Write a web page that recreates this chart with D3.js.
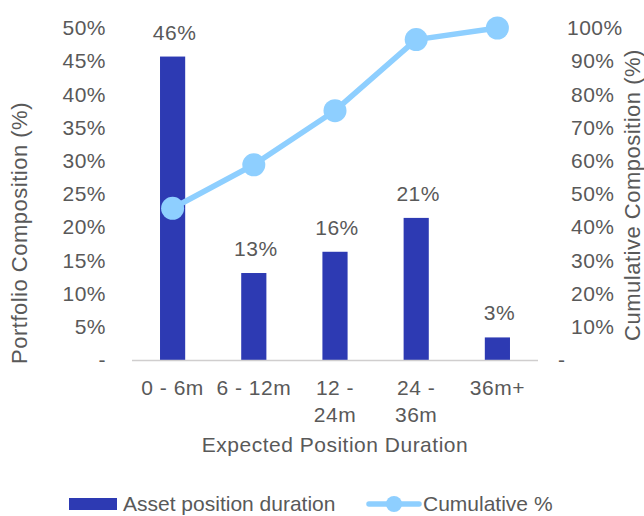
<!doctype html>
<html>
<head>
<meta charset="utf-8">
<script src="https://cdn.jsdelivr.net/npm/d3@7"></script>
<style>
  body { margin: 0; background: #fff; }
  svg text { font-family: "Liberation Sans", Arial, sans-serif; fill: #595959; letter-spacing: 0.5px; }
  svg .legend text { letter-spacing: 0; }
</style>
</head>
<body>
<svg id="chart" width="644" height="516"></svg>
<script>
const categories = ["0 - 6m", "6 - 12m", "12 - 24m", "24 - 36m", "36m+"];
const categoryLines = [["0 - 6m"], ["6 - 12m"], ["12 -", "24m"], ["24 -", "36m"], ["36m+"]];
const assetDuration = [45.7, 13.1, 16.3, 21.4, 3.4];
const cumulative = [45.7, 58.8, 75.1, 96.5, 100];
const leftTicks = [0, 5, 10, 15, 20, 25, 30, 35, 40, 45, 50];
const rightTicks = [0, 10, 20, 30, 40, 50, 60, 70, 80, 90, 100];

const barColor = "#2d3ab3";
const lineColor = "#8ecfff";

const svg = d3.select("#chart");
const x0 = 132, x1 = 538, yBase = 360, yTop = 28;

const x = d3.scaleBand().domain(categories).range([x0, x1]).paddingInner(0.69).paddingOuter(0.345);
const yL = d3.scaleLinear().domain([0, 50]).range([yBase, yTop]);
const yR = d3.scaleLinear().domain([0, 100]).range([yBase, yTop]);

const fmt = (v) => v === 0 ? "-" : v + "%";

// left axis
const gl = svg.append("g").attr("transform", `translate(${x0},0)`)
    .call(d3.axisLeft(yL).tickValues(leftTicks).tickFormat(fmt).tickSize(0).tickPadding(26));
gl.select(".domain").remove();
gl.selectAll("text").style("font-size", "21px").attr("fill", "#595959");

// right axis
const gr = svg.append("g").attr("transform", `translate(${x1},0)`)
    .call(d3.axisRight(yR).tickValues(rightTicks).tickFormat(fmt).tickSize(0).tickPadding(33));
gr.select(".domain").remove();
gr.selectAll("text").style("font-size", "21px").attr("fill", "#595959")
    .attr("x", (d) => d === 0 ? 20 : d === 100 ? 29 : 33);

// bars
svg.append("g").selectAll("rect").data(assetDuration).join("rect")
    .attr("x", (d, i) => x(categories[i]))
    .attr("width", x.bandwidth())
    .attr("y", (d) => yL(d))
    .attr("height", (d) => yBase - yL(d))
    .attr("fill", barColor);

// baseline
svg.append("line").attr("x1", x0).attr("x2", x1).attr("y1", yBase + 0.5).attr("y2", yBase + 0.5)
    .attr("stroke", "#d0cece").attr("stroke-width", 1.5);

// bar labels
svg.append("g").selectAll("text").data(assetDuration).join("text")
    .attr("x", (d, i) => x(categories[i]) + x.bandwidth() / 2 + 2)
    .attr("y", (d) => yL(d) - 17)
    .attr("text-anchor", "middle")
    .style("font-size", "21px")
    .text((d) => Math.round(d) + "%");

// cumulative line
const cx = (i) => x(categories[i]) + x.bandwidth() / 2;
svg.append("path")
    .datum(cumulative)
    .attr("fill", "none")
    .attr("stroke", lineColor)
    .attr("stroke-width", 5.5)
    .attr("stroke-linejoin", "round")
    .attr("d", d3.line().x((d, i) => cx(i)).y((d) => yR(d)));
svg.append("g").selectAll("circle").data(cumulative).join("circle")
    .attr("cx", (d, i) => cx(i))
    .attr("cy", (d) => yR(d))
    .attr("r", 11.5)
    .attr("fill", lineColor);

// x tick labels
const xl = svg.append("g").selectAll("text").data(categoryLines).join("text")
    .attr("text-anchor", "middle")
    .style("font-size", "21px");
xl.each(function (lines, i) {
  d3.select(this).selectAll("tspan").data(lines).join("tspan")
      .attr("x", cx(i))
      .attr("y", (d, j) => 395 + j * 27)
      .text((d) => d);
});

// axis titles
svg.append("text").attr("x", 335).attr("y", 452).attr("text-anchor", "middle")
    .style("font-size", "21px").text("Expected Position Duration");
svg.append("text").attr("transform", "translate(27,233) rotate(-90)").attr("text-anchor", "middle")
    .style("font-size", "22px").text("Portfolio Composition (%)");
svg.append("text").attr("transform", "translate(640,195) rotate(-90)").attr("text-anchor", "middle")
    .style("font-size", "22px").text("Cumulative Composition (%)");

// legend
const lg = svg.append("g").attr("class", "legend");
lg.append("rect").attr("x", 69).attr("y", 498).attr("width", 48).attr("height", 12).attr("fill", barColor);
lg.append("text").attr("x", 123).attr("y", 511).style("font-size", "21px").text("Asset position duration");
lg.append("line").attr("x1", 369).attr("x2", 419).attr("y1", 504).attr("y2", 504)
    .attr("stroke", lineColor).attr("stroke-width", 5.5).attr("stroke-linecap", "round");
lg.append("circle").attr("cx", 394).attr("cy", 504).attr("r", 8).attr("fill", lineColor);
lg.append("text").attr("x", 423).attr("y", 511).style("font-size", "21px").text("Cumulative %");
</script>
</body>
</html>
